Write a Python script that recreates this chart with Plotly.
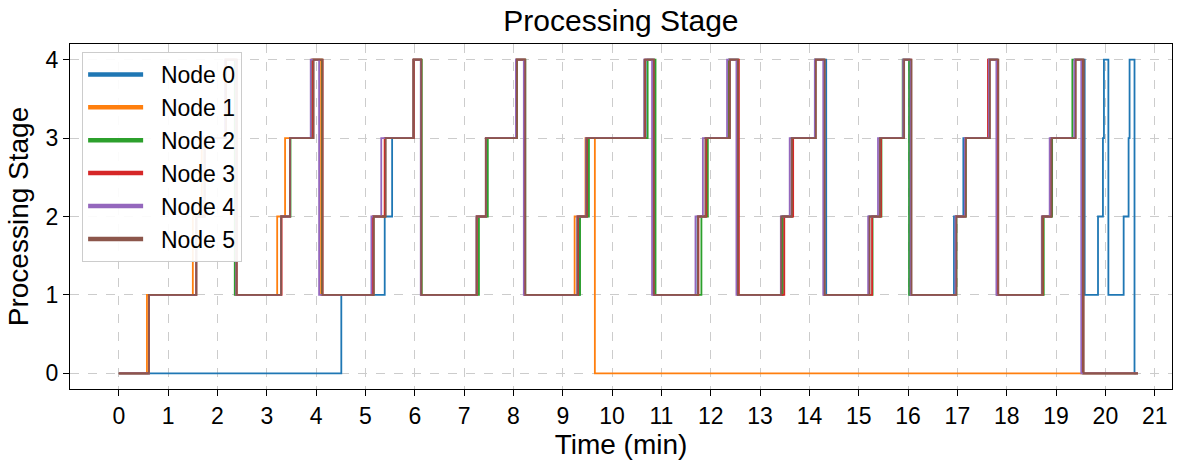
import plotly.graph_objects as go

# ---- data: (time in minutes, processing stage) step series per node ----
node0_t = [0.00, 4.51, 5.39, 5.54, 5.98, 6.13, 7.26, 7.45, 8.06, 8.23, 9.34, 9.50, 10.68, 10.85,
           11.73, 11.90, 12.37, 12.55, 13.45, 13.64, 14.11, 14.34, 15.21, 15.43, 15.91, 16.03,
           16.93, 17.12, 17.64, 17.82, 18.73, 18.90, 19.38, 19.58, 19.85, 19.95, 19.97, 20.06,
           20.37, 20.47, 20.49, 20.59, 20.62]
node0_s = [0, 1, 2, 3, 4, 1, 2, 3, 4, 1, 2, 3, 4, 1,
           2, 3, 4, 1, 2, 3, 4, 1, 2, 3, 4, 1,
           2, 3, 4, 1, 2, 3, 4, 1, 2, 3, 4, 1,
           2, 3, 4, 0, 0]

node1_t = [0.00, 0.57, 1.50, 1.68, 2.15, 2.37, 3.21, 3.37, 3.91, 4.10, 5.16, 5.39, 5.97, 6.13,
           7.26, 7.45, 8.06, 8.23, 9.24, 9.46, 9.65, 20.66]
node1_s = [0, 1, 2, 3, 4, 1, 2, 3, 4, 1, 2, 3, 4, 1,
           2, 3, 4, 1, 2, 3, 0, 0]

node2_t = [0.00, 0.61, 1.57, 1.74, 2.17, 2.35, 3.29, 3.48, 3.92, 4.12, 5.16, 5.40, 5.98, 6.14,
           7.30, 7.48, 8.07, 8.24, 9.35, 9.53, 10.72, 10.88, 11.81, 11.94, 12.37, 12.55,
           13.46, 13.65, 14.12, 14.30, 15.28, 15.46, 15.89, 16.02, 16.98, 17.17, 17.63, 17.80,
           18.75, 18.92, 19.33, 19.54, 20.66]
node3_t = [0.00, 0.61, 1.57, 1.74, 2.17, 2.39, 3.30, 3.47, 3.93, 4.13, 5.15, 5.39, 5.98, 6.13,
           7.26, 7.44, 8.06, 8.23, 9.31, 9.49, 10.67, 10.84, 11.75, 11.91, 12.38, 12.57,
           13.49, 13.67, 14.12, 14.30, 15.27, 15.45, 15.91, 16.06, 16.97, 17.16, 17.62, 17.81,
           18.73, 18.90, 19.38, 19.55, 20.66]
node4_t = [0.00, 0.61, 1.57, 1.74, 2.15, 2.38, 3.29, 3.47, 3.89, 4.06, 5.12, 5.32, 5.97, 6.12,
           7.25, 7.44, 8.05, 8.21, 9.29, 9.47, 10.65, 10.81, 11.69, 11.84, 12.33, 12.52,
           13.42, 13.60, 14.11, 14.28, 15.19, 15.39, 15.90, 16.05, 16.96, 17.15, 17.64, 17.79,
           18.71, 18.87, 19.37, 19.51, 20.66]
node5_t = [0.00, 0.61, 1.57, 1.74, 2.17, 2.39, 3.29, 3.47, 3.95, 4.13, 5.17, 5.41, 5.97, 6.13,
           7.25, 7.44, 8.07, 8.24, 9.30, 9.48, 10.66, 10.85, 11.74, 11.89, 12.39, 12.55,
           13.43, 13.64, 14.13, 14.31, 15.22, 15.43, 15.92, 16.07, 16.98, 17.17, 17.66, 17.83,
           18.72, 18.91, 19.40, 19.56, 20.66]
full_cycle_s = [0, 1, 2, 3, 4, 1, 2, 3, 4, 1, 2, 3, 4, 1,
                2, 3, 4, 1, 2, 3, 4, 1, 2, 3, 4, 1,
                2, 3, 4, 1, 2, 3, 4, 1, 2, 3, 4, 1,
                2, 3, 4, 0, 0]

node_names = ["Node 0", "Node 1", "Node 2", "Node 3", "Node 4", "Node 5"]
node_times = [node0_t, node1_t, node2_t, node3_t, node4_t, node5_t]
node_stages = [node0_s, node1_s, full_cycle_s, full_cycle_s, full_cycle_s, full_cycle_s]
colors = ["#1f77b4", "#ff7f0e", "#2ca02c", "#d62728", "#9467bd", "#8c564b"]

x_ticks = list(range(0, 22))
y_ticks = [0, 1, 2, 3, 4]

FONT = "Arial, 'Liberation Sans', Helvetica, sans-serif"

fig = go.Figure()
for name, t, s, c in zip(node_names, node_times, node_stages, colors):
    fig.add_trace(go.Scatter(x=t, y=s, mode="lines", line=dict(color=c, width=1.8, shape="hv"),
                             showlegend=False, hoverinfo="skip"))
for name, c in zip(node_names, colors):
    fig.add_trace(go.Scatter(x=[None], y=[None], mode="lines", name="&nbsp;&nbsp;" + name,
                             legendgroup=name, line=dict(color=c, width=4.5)))

axis_common = dict(showline=True, linecolor="black", linewidth=1.3, mirror=True,
                   ticks="outside", ticklen=6, tickwidth=1.2, tickcolor="black",
                   showgrid=True, gridcolor="#cccccc", griddash="dash", gridwidth=1,
                   zeroline=False, tickfont=dict(size=23, color="black", family=FONT))

fig.update_layout(
    width=1185, height=464,
    margin=dict(l=70, r=13, t=44, b=72),
    paper_bgcolor="white", plot_bgcolor="white",
    font=dict(family=FONT, color="black"),
    title=dict(text="Processing Stage", x=0.524, xanchor="center", y=0.955, yanchor="middle",
               font=dict(size=30, color="black", family=FONT)),
    xaxis=dict(range=[-0.99, 21.35], tickvals=x_ticks, ticktext=[str(v) for v in x_ticks],
               title=dict(text="Time (min)", font=dict(size=28), standoff=4), **axis_common),
    yaxis=dict(range=[-0.2, 4.2], tickvals=y_ticks, ticktext=[str(v) for v in y_ticks],
               title=dict(text="Processing Stage", font=dict(size=28), standoff=8), **axis_common),
    legend=dict(x=0.011, y=0.977, xanchor="left", yanchor="top",
                bgcolor="rgba(255,255,255,0.92)", bordercolor="#cccccc", borderwidth=1,
                font=dict(size=23, color="black", family=FONT),
                tracegroupgap=0, itemwidth=55),
)

fig.write_html("out.html")
